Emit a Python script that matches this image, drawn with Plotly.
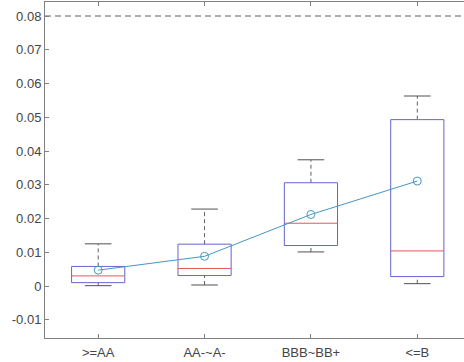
import plotly.graph_objects as go

categories = [">=AA", "AA-~A-", "BBB~BB+", "<=B"]
whisker_low = [0.0001, 0.0003, 0.0101, 0.0007]
q1 = [0.0010, 0.0031, 0.0120, 0.0028]
median = [0.0030, 0.0052, 0.0186, 0.0104]
q3 = [0.0058, 0.0124, 0.0306, 0.0493]
whisker_high = [0.0125, 0.0228, 0.0374, 0.0563]
mean = [0.0047, 0.0088, 0.0212, 0.0311]
threshold = 0.08

ytick_vals = [-0.01, 0, 0.01, 0.02, 0.03, 0.04, 0.05, 0.06, 0.07, 0.08]
ytick_text = ["-0.01", "0", "0.01", "0.02", "0.03", "0.04", "0.05", "0.06", "0.07", "0.08"]

pos = list(range(1, len(categories) + 1))
hw = 0.25   # box half width
cw = 0.125  # cap half width

box_x, box_y = [], []
med_x, med_y = [], []
wh_x, wh_y = [], []
cap_x, cap_y = [], []
for p, lo, a, m, b, hi in zip(pos, whisker_low, q1, median, q3, whisker_high):
    box_x += [p - hw, p + hw, p + hw, p - hw, p - hw, None]
    box_y += [a, a, b, b, a, None]
    med_x += [p - hw, p + hw, None]
    med_y += [m, m, None]
    wh_x += [p, p, None, p, p, None]
    wh_y += [b, hi, None, lo, a, None]
    cap_x += [p - cw, p + cw, None, p - cw, p + cw, None]
    cap_y += [hi, hi, None, lo, lo, None]

fig = go.Figure()
fig.add_trace(go.Scatter(x=[0.5, 4.5], y=[threshold, threshold], mode="lines",
                         line=dict(color="#606060", width=1, dash="6px,4px"), hoverinfo="skip"))
fig.add_trace(go.Scatter(x=wh_x, y=wh_y, mode="lines",
                         line=dict(color="#606060", width=1, dash="4px,3px")))
fig.add_trace(go.Scatter(x=cap_x, y=cap_y, mode="lines",
                         line=dict(color="#505050", width=1)))
fig.add_trace(go.Scatter(x=box_x, y=box_y, mode="lines",
                         line=dict(color="#6464d2", width=1)))
fig.add_trace(go.Scatter(x=med_x, y=med_y, mode="lines",
                         line=dict(color="#e05a5a", width=1)))
fig.add_trace(go.Scatter(x=pos, y=mean, mode="lines+markers",
                         line=dict(color="#4696c4", width=1),
                         marker=dict(symbol="circle-open", size=8,
                                     line=dict(color="#4696c4", width=1))))

fig.update_layout(
    width=464, height=362,
    margin=dict(l=45, r=0, t=2, b=24, autoexpand=False),
    paper_bgcolor="white", plot_bgcolor="white",
    showlegend=False,
    font=dict(family="Liberation Sans, Arial, sans-serif", size=13, color="#454545"),
)
fig.update_xaxes(
    range=[0.5, 4.439], tickvals=pos, ticktext=categories,
    showgrid=False, zeroline=False, automargin=False,
    showline=True, linecolor="#808080", linewidth=1, mirror="ticks",
    ticks="inside", ticklen=4, tickcolor="#808080", ticklabelstandoff=2,
)
fig.update_yaxes(
    range=[-0.0154, 0.08415], tickvals=ytick_vals, ticktext=ytick_text,
    showgrid=False, zeroline=False, automargin=False,
    showline=True, linecolor="#808080", linewidth=1, mirror=False,
    ticks="inside", ticklen=4, tickcolor="#808080",
)

fig.write_html(
    "out.html",
    config={"displayModeBar": False},
    post_script="document.body.style.margin='0';document.body.style.overflow='hidden';",
)
